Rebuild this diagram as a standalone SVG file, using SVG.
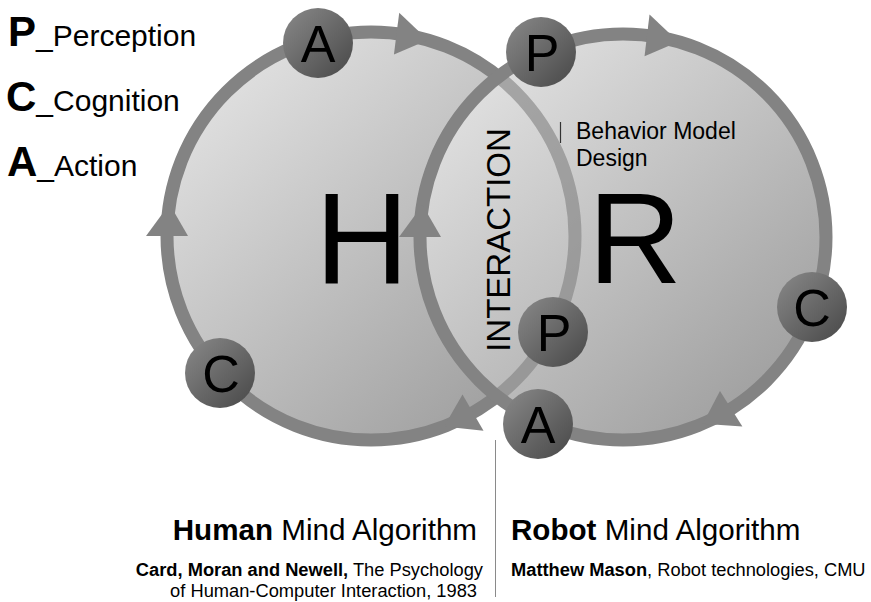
<svg xmlns="http://www.w3.org/2000/svg" width="871" height="602" viewBox="0 0 871 602">
<style>
  text { font-family: "Liberation Sans", Arial, sans-serif; fill: #000; }
  .ring { fill: none; stroke: #838383; stroke-width: 13; }
  .arrow { fill: #838383; }
  .dot { fill: url(#dotGrad); }
  .dotlbl { font-size: 52px; text-anchor: middle; }
  .big { font-size: 130px; text-anchor: middle; }
  .leg-b { font-size: 42px; font-weight: bold; }
  .leg { font-size: 30px; }
  .title { font-size: 29.6px; }
  .cite { font-size: 18.3px; }
  .b { font-weight: bold; }
</style>
<defs>
  <linearGradient id="bigGrad" x1="0.15" y1="0.1" x2="0.85" y2="0.9">
    <stop offset="0" stop-color="#e0e0e0"/>
    <stop offset="1" stop-color="#a0a0a0"/>
  </linearGradient>
  <linearGradient id="dotGrad" x1="0.1" y1="0.1" x2="0.9" y2="0.9">
    <stop offset="0" stop-color="#838383"/>
    <stop offset="1" stop-color="#4e4e4e"/>
  </linearGradient>
  <clipPath id="inR"><circle cx="623" cy="237" r="203"/></clipPath>
  <mask id="outR">
    <rect width="871" height="602" fill="#fff"/>
    <circle cx="623" cy="237" r="203" fill="#000"/>
  </mask>
</defs>
<rect width="871" height="602" fill="#fff"/>

<!-- legend -->
<g id="legend">
  <text x="8" y="46"><tspan class="leg-b">P</tspan><tspan class="leg">_Perception</tspan></text>
  <text x="6" y="111"><tspan class="leg-b">C</tspan><tspan class="leg">_Cognition</tspan></text>
  <text x="7" y="176"><tspan class="leg-b">A</tspan><tspan class="leg">_Action</tspan></text>
</g>

<g id="node-human">
  <circle cx="371" cy="236" r="204" fill="url(#bigGrad)"/>
</g>
<g id="node-robot">
  <circle cx="623" cy="237" r="203" fill="url(#bigGrad)"/>
</g>

<g id="connectors">
  <circle class="ring" cx="371" cy="236" r="204" mask="url(#outR)"/>
  <circle class="ring" cx="371" cy="236" r="204" clip-path="url(#inR)" stroke-opacity="0.62"/>
  <g class="arrow">
    <polygon points="183,0 225,0 201.5,31.9" transform="translate(371 236) rotate(-82.8)"/>
    <polygon points="183,0 225,0 201.5,31.9" transform="translate(371 236) rotate(180)"/>
    <polygon points="183,0 225,0 201.5,31.9" transform="translate(371 236) rotate(60)"/>
  </g>
  <circle class="ring" cx="623" cy="237" r="203"/>
  <g class="arrow">
    <polygon points="182,0 224,0 200.5,31.9" transform="translate(623 237) rotate(-83.2)"/>
    <polygon points="182,0 224,0 200.5,31.9" transform="translate(623 237) rotate(180)"/>
    <polygon points="182,0 224,0 200.5,31.9" transform="translate(623 237) rotate(57.8)"/>
  </g>
</g>

<g id="label-H"><text class="big" x="362" y="283">H</text></g>
<g id="label-R"><text class="big" x="635" y="283">R</text></g>

<g id="interaction">
  <text transform="translate(510 240) rotate(-90)" text-anchor="middle" font-size="33" fill="#1a1a1a">INTERACTION</text>
</g>

<g id="behavior-note">
  <line x1="560.5" y1="122" x2="560.5" y2="143" stroke="#333" stroke-width="1.2"/>
  <text x="576" y="139" font-size="23">Behavior Model</text>
  <text x="576" y="166" font-size="23">Design</text>
</g>

<g id="node-human-A">
  <circle class="dot" cx="318" cy="43" r="35"/>
  <text class="dotlbl" x="318" y="62">A</text>
</g>
<g id="node-human-C">
  <circle class="dot" cx="220" cy="373" r="35"/>
  <text class="dotlbl" x="221" y="392">C</text>
</g>
<g id="node-robot-P">
  <circle class="dot" cx="541" cy="52" r="35"/>
  <text class="dotlbl" x="542" y="71">P</text>
</g>
<g id="node-human-P">
  <circle class="dot" cx="553" cy="332" r="35"/>
  <text class="dotlbl" x="554" y="351">P</text>
</g>
<g id="node-robot-C">
  <circle class="dot" cx="812" cy="307" r="35"/>
  <text class="dotlbl" x="812" y="326">C</text>
</g>
<g id="node-robot-A">
  <circle class="dot" cx="538" cy="424" r="35"/>
  <text class="dotlbl" x="538" y="443">A</text>
</g>

<line x1="495.5" y1="440" x2="495.5" y2="597" stroke="#8a8a8a" stroke-width="1"/>

<g id="human-caption">
  <text class="title" x="477" y="540" text-anchor="end"><tspan class="b">Human</tspan> Mind Algorithm</text>
  <text class="cite" x="483" y="576" text-anchor="end"><tspan class="b">Card, Moran and Newell,</tspan> The Psychology</text>
  <text class="cite" x="477" y="597" text-anchor="end">of Human-Computer Interaction, 1983</text>
</g>
<g id="robot-caption">
  <text class="title" x="511" y="540"><tspan class="b">Robot</tspan> Mind Algorithm</text>
  <text class="cite" x="511" y="576"><tspan class="b">Matthew Mason</tspan>, Robot technologies, CMU</text>
</g>
</svg>
